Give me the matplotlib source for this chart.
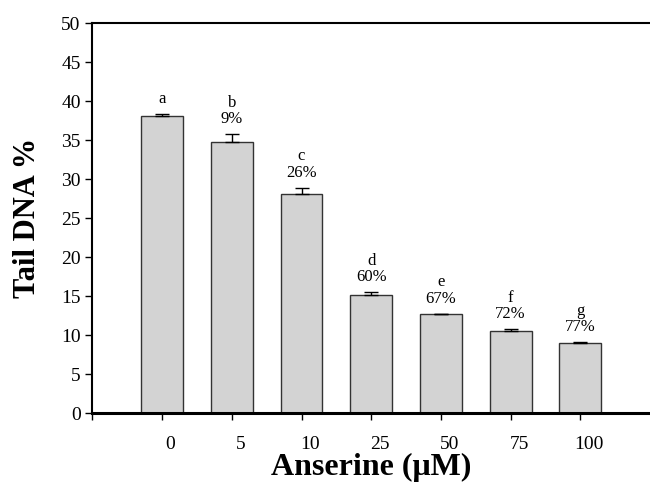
import matplotlib
matplotlib.use("Agg")
import matplotlib.pyplot as plt
import matplotlib.transforms as mtransforms
import numpy as np

# =============================================================================
# Data
# =============================================================================

doses = ["0", "5", "10", "25", "50", "75", "100"]
tail_dna = [38.1, 34.8, 28.1, 15.2, 12.7, 10.5, 9.0]
tail_err = [0.3, 1.0, 0.8, 0.35, 0.08, 0.3, 0.1]
letters = ["a", "b", "c", "d", "e", "f", "g"]
reduction = ["", "9%", "26%", "60%", "67%", "72%", "77%"]

# =============================================================================
# Plot
# =============================================================================

plt.rcParams["font.family"] = ["Liberation Serif", "DejaVu Serif"]

fig = plt.figure(figsize=(6.5, 4.87), dpi=100)
ax = fig.add_axes([0.1423, 0.1513, 0.8577, 0.8007])

x = np.arange(len(doses))
ax.bar(x, tail_dna, width=0.6, color="#d3d3d3", edgecolor="#333333",
       linewidth=1.0, zorder=2)
ax.errorbar(x, tail_dna, yerr=[np.zeros(len(x)), tail_err], fmt="none",
            ecolor="black", elinewidth=1.0, capsize=5, capthick=1.0, zorder=3)

for xi, h, e, let, red in zip(x, tail_dna, tail_err, letters, reduction):
    txt = let if not red else f"{let}\n{red}"
    ax.annotate(txt, (xi, h + e), xytext=(0, 5), textcoords="offset points",
                ha="center", va="bottom", fontsize=12, linespacing=1.05)

ax.set_xlim(-1, 7)
ax.set_ylim(0, 50)
ax.set_xticks(np.arange(-1, len(doses)))
ax.set_xticklabels([""] + doses, fontsize=14)
ax.set_yticks(np.arange(0, 51, 5))
ax.tick_params(axis="y", labelsize=14, direction="out", length=5, width=1)
ax.tick_params(axis="x", direction="out", length=5, width=1, pad=11)

# tick labels sit a little right of their ticks
shift = mtransforms.ScaledTranslation(6 / 72, 0, fig.dpi_scale_trans)
for tick in ax.xaxis.get_major_ticks():
    tick.label1.set_transform(tick.label1.get_transform() + shift)

ax.spines["right"].set_visible(False)
ax.spines["left"].set_linewidth(1.5)
ax.spines["top"].set_linewidth(1.5)
ax.spines["bottom"].set_linewidth(2.2)

ax.set_xlabel("Anserine (\u03bcM)", fontsize=23, fontweight="bold", labelpad=0)
ax.set_ylabel("Tail DNA %", fontsize=22, fontweight="bold", labelpad=14)

fig.savefig("out.png", dpi=100)
